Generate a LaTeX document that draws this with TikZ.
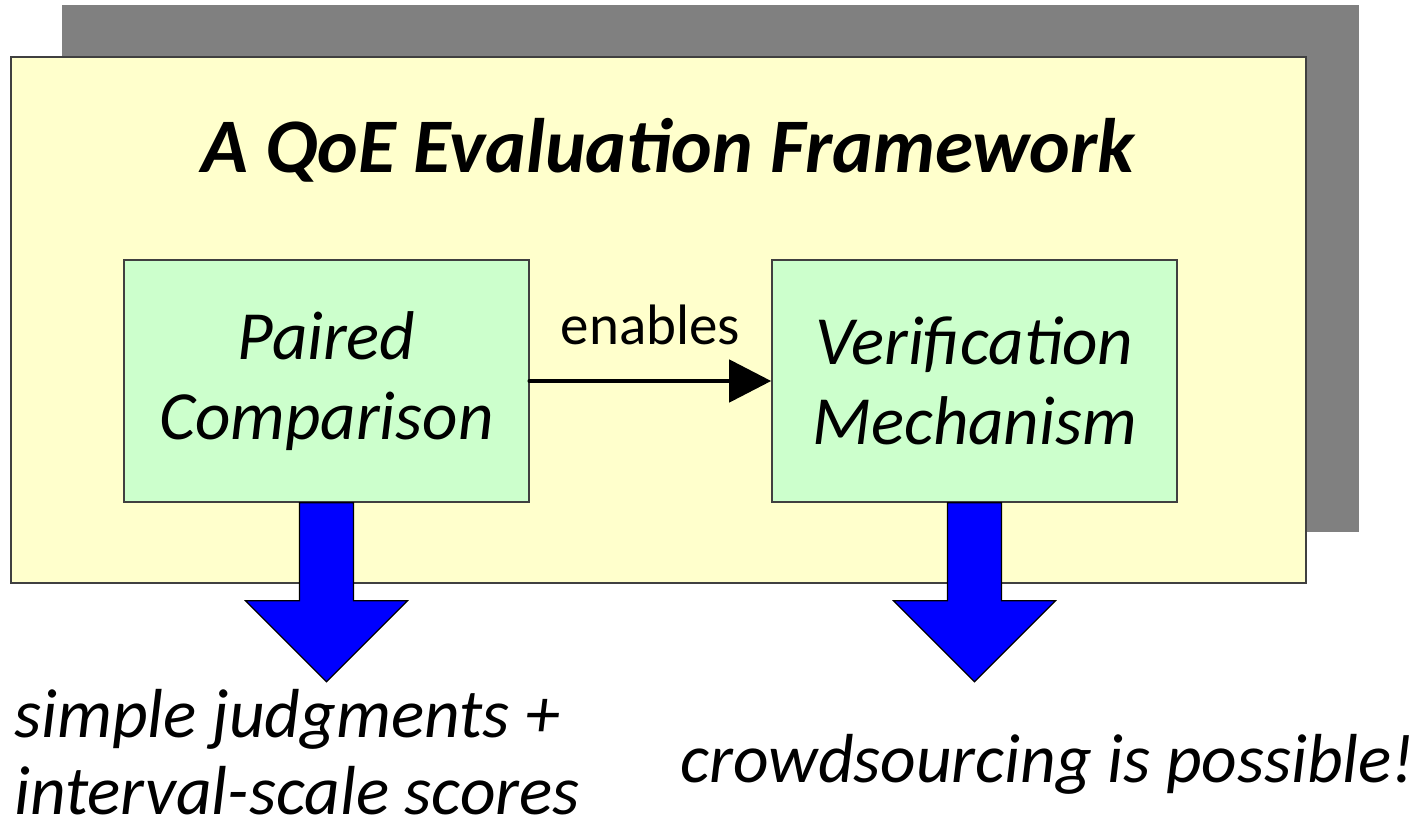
\documentclass[tikz,border=0pt]{standalone}
\usepackage{fontspec}
\setmainfont{Carlito}
\usetikzlibrary{arrows.meta,positioning}
\definecolor{shadowgray}{HTML}{808080}
\definecolor{frameyellow}{HTML}{FFFFCC}
\definecolor{boxgreen}{HTML}{CCFFCC}
\definecolor{edgegray}{HTML}{404040}
\definecolor{arrowblue}{HTML}{0000FF}
\tikzset{
  panel/.style={draw=edgegray, line width=0.8pt, inner sep=0pt},
  conceptbox/.style={panel, fill=boxgreen, minimum width=202.5pt, minimum height=121pt,
    align=center, font=\itshape\fontsize{34.5}{40}\selectfont},
  bigarrow/.style={draw=black, line width=0.6pt, fill=arrowblue, line join=miter},
  outcome/.style={inner sep=0pt, font=\itshape\fontsize{34.7}{39}\selectfont},
}
\begin{document}
\begin{tikzpicture}[x=0.5pt,y=-0.5pt]
\useasboundingbox (0,0) rectangle (1419,830);
% shadow and frame
\node[fill=shadowgray, inner sep=0pt, minimum width=648.5pt, minimum height=263.5pt] (shadow) at (710.5,268.5) {};
\node[panel, fill=frameyellow, minimum width=647.5pt, minimum height=263pt] (frame) at (658.5,320) {};
\node[anchor=base, inner sep=0pt, font=\bfseries\itshape\fontsize{38.6}{47}\selectfont] (title) at (668,172) {A QoE Evaluation Framework};
% concept boxes
\node[conceptbox] (pc) at (326.5,381) {Paired\\Comparison};
\node[conceptbox] (vm) at (974.5,381) {Verification\\Mechanism};
\draw[line width=2.4pt, line cap=round, -{Triangle[length=21pt,width=21pt]}] (pc.east) -- node[above=17pt, inner sep=0pt, font=\fontsize{28.5}{32}\selectfont] (enables) {enables} (vm.west);
% blue arrows
\draw[bigarrow] ([xshift=-13.5pt]pc.south) -- ++(0,98) -- ++(-54,0) -- ++(81,81) -- ++(81,-81) -- ++(-54,0) -- ([xshift=13.5pt]pc.south) -- cycle;
\draw[bigarrow] ([xshift=-13.5pt]vm.south) -- ++(0,98) -- ++(-54,0) -- ++(81,81) -- ++(81,-81) -- ++(-54,0) -- ([xshift=13.5pt]vm.south) -- cycle;
% outcomes
\node[outcome, anchor=base west] (out1a) at (14,737) {simple judgments +};
\node[outcome, anchor=base west] (out1b) at (14,814) {interval-scale scores};
\node[outcome, anchor=base west] (out2) at (680,782) {crowdsourcing is possible!};
\end{tikzpicture}
\end{document}
